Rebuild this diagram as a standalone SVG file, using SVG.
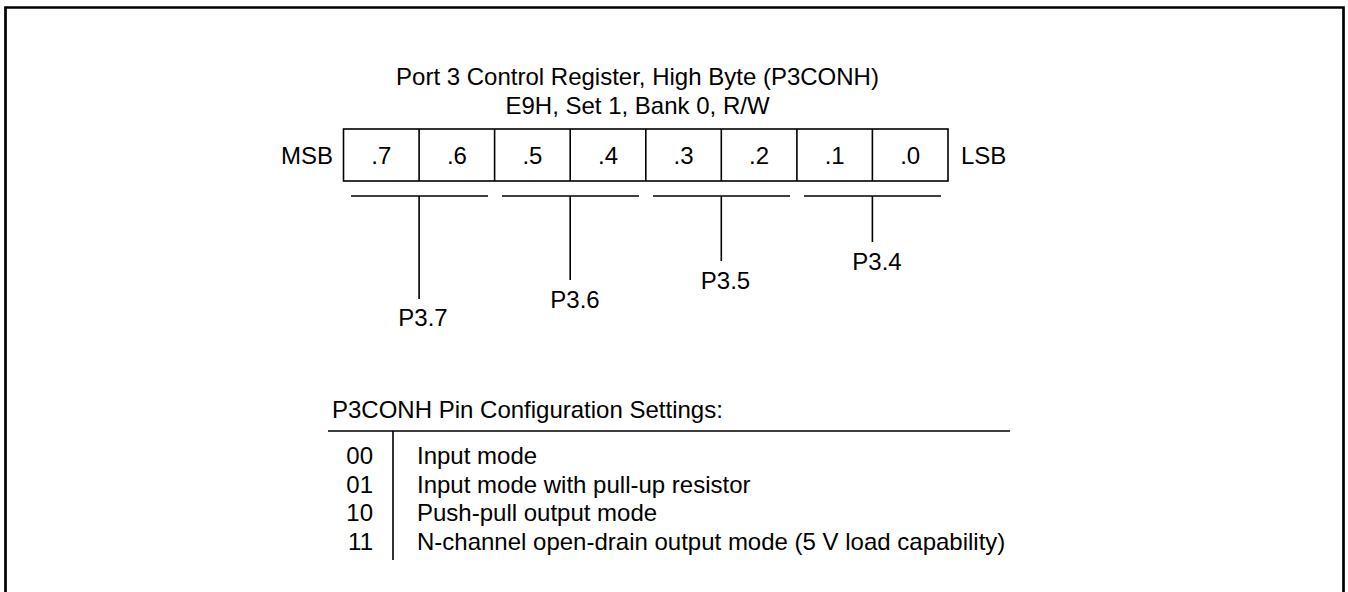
<svg xmlns="http://www.w3.org/2000/svg" width="1348" height="592" viewBox="0 0 1348 592">
<style>
text{font-family:"Liberation Sans",Arial,sans-serif;font-size:24px;fill:#000}
.c{text-anchor:middle}
.e{text-anchor:end}
.ln{stroke:#000;stroke-width:1.6;fill:none}
</style>
<rect x="0" y="0" width="1348" height="592" fill="#fff"/>
<g id="frame"><path d="M5.5,600 V7.5 H1343.5 V600" fill="none" stroke="#000" stroke-width="2.7"/></g>
<g id="title">
<text class="c" x="637.5" y="85">Port 3 Control Register, High Byte (P3CONH)</text>
<text class="c" x="637.5" y="114">E9H, Set 1, Bank 0, R/W</text>
</g>
<g id="register">
<rect class="ln" x="343.5" y="129" width="604.5" height="52"/>
<path class="ln" d="M419.1,129V181M494.6,129V181M570.2,129V181M645.8,129V181M721.3,129V181M796.9,129V181M872.4,129V181"/>
<text class="e" x="333" y="164">MSB</text>
<text x="961" y="164">LSB</text>
<text class="c" x="381.3" y="164">.7</text>
<text class="c" x="456.9" y="164">.6</text>
<text class="c" x="532.4" y="164">.5</text>
<text class="c" x="608" y="164">.4</text>
<text class="c" x="683.5" y="164">.3</text>
<text class="c" x="759.1" y="164">.2</text>
<text class="c" x="834.7" y="164">.1</text>
<text class="c" x="910.2" y="164">.0</text>
</g>
<g id="connectors">
<path class="ln" d="M351,196H488M419.1,196V299"/>
<path class="ln" d="M502,196H639M570.2,196V280"/>
<path class="ln" d="M653,196H790M721.3,196V261"/>
<path class="ln" d="M804,196H941M872.4,196V242"/>
</g>
<g id="p37"><text class="c" x="423" y="326">P3.7</text></g>
<g id="p36"><text class="c" x="575" y="308">P3.6</text></g>
<g id="p35"><text class="c" x="725.5" y="289">P3.5</text></g>
<g id="p34"><text class="c" x="877" y="270">P3.4</text></g>
<g id="settings">
<text x="332" y="418">P3CONH Pin Configuration Settings:</text>
<path class="ln" d="M328,431H1010M393,431V560"/>
<text class="e" x="373" y="464">00</text>
<text class="e" x="373" y="492.5">01</text>
<text class="e" x="373" y="521">10</text>
<text class="e" x="373" y="549.5">11</text>
<text x="417" y="464">Input mode</text>
<text x="417" y="492.5">Input mode with pull-up resistor</text>
<text x="417" y="521">Push-pull output mode</text>
<text x="417" y="549.5">N-channel open-drain output mode (5 V load capability)</text>
</g>
</svg>
